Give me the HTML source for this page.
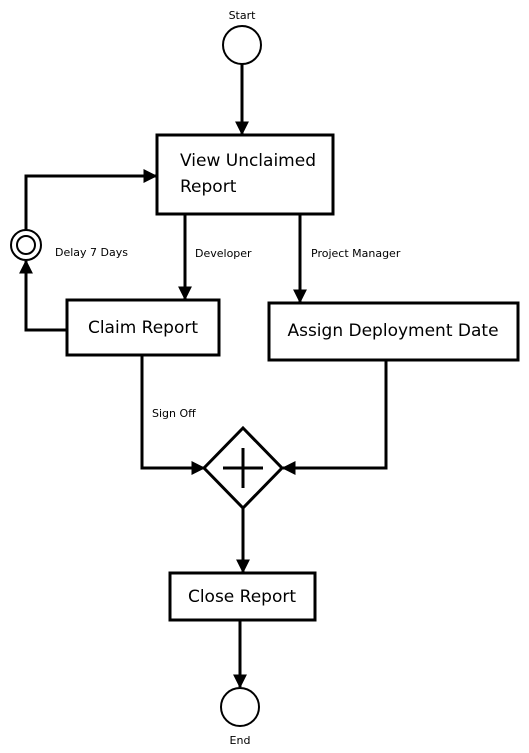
<!DOCTYPE html>
<html><head><style>
body{margin:0;background:#fff;}
svg{display:block;font-family:"DejaVu Sans","Liberation Sans",sans-serif;}
</style></head><body>
<svg width="529" height="753" viewBox="0 0 529 753" xmlns="http://www.w3.org/2000/svg">
<defs>
<marker id="a" markerWidth="10" markerHeight="10" refX="9" refY="5" orient="auto" markerUnits="userSpaceOnUse">
<path d="M0,0 L10,5 L0,10 z" fill="#000"/>
</marker>
<marker id="b" viewBox="0 0 10 10" markerWidth="14" markerHeight="14" refX="9" refY="5" orient="auto" markerUnits="userSpaceOnUse">
<path d="M0,0 L10,5 L0,10 z" fill="#000"/>
</marker>
</defs>
<g fill="none" stroke="#000" stroke-width="3">
<circle cx="242" cy="45" r="19" stroke-width="2"/>
<line x1="242" y1="64" x2="242" y2="134" marker-end="url(#b)"/>
<rect x="157" y="135" width="176" height="79"/>
<polyline points="67,330 26,330 26,261" marker-end="url(#b)"/>
<circle cx="26" cy="245" r="15" stroke-width="2"/>
<circle cx="26" cy="245" r="9" stroke-width="2"/>
<polyline points="26,230 26,176 156,176" marker-end="url(#b)"/>
<line x1="185" y1="214" x2="185" y2="299" marker-end="url(#b)"/>
<line x1="300" y1="214" x2="300" y2="302" marker-end="url(#b)"/>
<rect x="67" y="300" width="152" height="55"/>
<rect x="269" y="303" width="249" height="57"/>
<polyline points="142,355 142,468 204,468" marker-end="url(#b)"/>
<polyline points="386,360 386,468 283,468" marker-end="url(#b)"/>
<polygon points="243,428 282,468 243,508 204,468"/>
<line x1="243" y1="448" x2="243" y2="488"/>
<line x1="223" y1="468" x2="263" y2="468"/>
<line x1="243" y1="508" x2="243" y2="572" marker-end="url(#b)"/>
<rect x="170" y="573" width="145" height="47"/>
<line x1="240" y1="620" x2="240" y2="687" marker-end="url(#b)"/>
<circle cx="240" cy="707" r="19" stroke-width="2"/>
</g>
<g fill="#000" font-size="11">
<text x="242" y="19" text-anchor="middle">Start</text>
<text x="240" y="744" text-anchor="middle">End</text>
<text x="55" y="256">Delay 7 Days</text>
<text x="195" y="257">Developer</text>
<text x="311" y="257">Project Manager</text>
<text x="152" y="417">Sign Off</text>
</g>
<g fill="#000" font-size="17">
<text x="180" y="166">View Unclaimed</text>
<text x="180" y="192">Report</text>
<text x="143" y="333" text-anchor="middle">Claim Report</text>
<text x="393" y="336" text-anchor="middle">Assign Deployment Date</text>
<text x="242" y="602" text-anchor="middle">Close Report</text>
</g>
</svg>
</body></html>
